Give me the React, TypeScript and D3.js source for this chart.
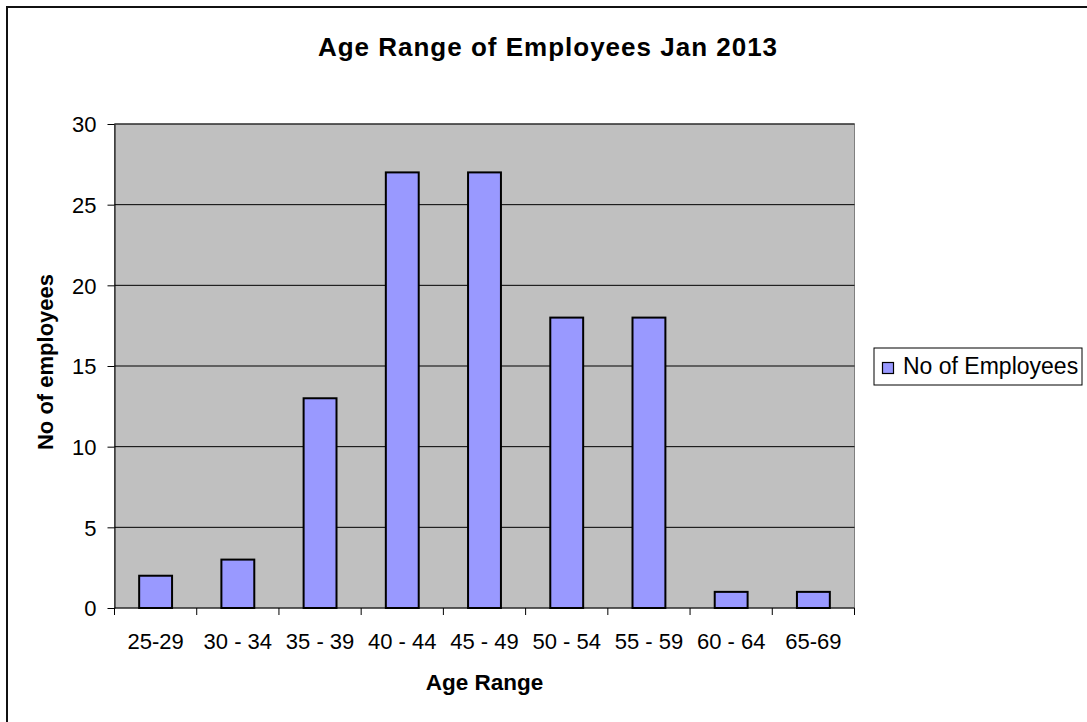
/* eslint-disable */
import React, { useRef, useEffect } from "react";
import * as d3 from "d3";

const categories = ["25-29", "30 - 34", "35 - 39", "40 - 44", "45 - 49", "50 - 54", "55 - 59", "60 - 64", "65-69"];
const employees = [2, 3, 13, 27, 27, 18, 18, 1, 1];
const yTicks = [0, 5, 10, 15, 20, 25, 30];
const seriesName = "No of Employees";
const chartTitle = "Age Range of Employees Jan 2013";
const xTitle = "Age Range";
const yTitle = "No of employees";

const App = () => {
  const svgRef = useRef<SVGSVGElement>(null);

  useEffect(() => {
    if (!svgRef.current) return;
    const svg = d3.select(svgRef.current);
    svg.selectAll("*").remove();

    const width = 1087;
    const height = 722;
    const plotLeft = 114.5;
    const plotRight = 854.5;
    const plotTop = 124;
    const plotBottom = 608;
    const font = "'Liberation Sans', Arial, sans-serif";

    svg.attr("width", width).attr("height", height).style("font-family", font);

    // outer chart frame (cropped at right/bottom)
    svg
      .append("rect")
      .attr("x", 7)
      .attr("y", 7)
      .attr("width", 1200)
      .attr("height", 800)
      .attr("fill", "white")
      .attr("stroke", "#111")
      .attr("stroke-width", 2);

    const x = d3.scaleBand<string>().domain(categories).range([plotLeft, plotRight]).paddingInner(0.6).paddingOuter(0.3);
    const xb = d3.scaleBand<string>().domain(categories).range([plotLeft, plotRight]);
    const y = d3.scaleLinear().domain([0, 30]).range([plotBottom, plotTop]);

    // plot area
    svg
      .append("rect")
      .attr("x", plotLeft)
      .attr("y", plotTop)
      .attr("width", plotRight - plotLeft)
      .attr("height", plotBottom - plotTop)
      .attr("fill", "#c0c0c0")
      .attr("stroke", "#808080")
      .attr("stroke-width", 1);

    // gridlines
    svg
      .append("g")
      .selectAll("line")
      .data(yTicks.filter((d) => d > 0))
      .join("line")
      .attr("x1", plotLeft)
      .attr("x2", plotRight)
      .attr("y1", (d) => y(d))
      .attr("y2", (d) => y(d))
      .attr("stroke", "#000")
      .attr("stroke-width", 1);

    // bars
    svg
      .append("g")
      .selectAll("rect")
      .data(employees)
      .join("rect")
      .attr("x", (_, i) => x(categories[i])!)
      .attr("y", (d) => y(d))
      .attr("width", x.bandwidth())
      .attr("height", (d) => y(0) - y(d))
      .attr("fill", "#9999ff")
      .attr("stroke", "#000")
      .attr("stroke-width", 2);

    // y axis
    svg
      .append("g")
      .attr("transform", `translate(${plotLeft},0)`)
      .call(d3.axisLeft(y).tickValues(yTicks).tickSize(7).tickPadding(11).tickSizeOuter(0))
      .call((g) => g.select(".domain").attr("stroke", "#000"))
      .call((g) => g.selectAll(".tick text").attr("font-size", 22).attr("font-family", font).attr("fill", "#000").attr("dy", "0.35em"));

    // x axis
    const xAxis = svg.append("g").attr("transform", `translate(0,${plotBottom})`);
    xAxis.append("line").attr("x1", plotLeft).attr("x2", plotRight).attr("stroke", "#000");
    xAxis
      .selectAll("line.tick")
      .data([...categories.map((c) => xb(c)!), plotRight])
      .join("line")
      .attr("class", "tick")
      .attr("x1", (d) => d)
      .attr("x2", (d) => d)
      .attr("y1", 0)
      .attr("y2", 7)
      .attr("stroke", "#000");
    xAxis
      .selectAll("text")
      .data(categories)
      .join("text")
      .attr("x", (d) => xb(d)! + xb.bandwidth() / 2)
      .attr("y", 41)
      .attr("text-anchor", "middle")
      .attr("font-size", 22)
      .text((d) => d);

    // titles
    svg
      .append("text")
      .attr("x", 548)
      .attr("y", 56)
      .attr("text-anchor", "middle")
      .attr("font-size", 26)
      .attr("font-weight", "bold")
      .attr("letter-spacing", 1)
      .text(chartTitle);

    svg
      .append("text")
      .attr("x", (plotLeft + plotRight) / 2)
      .attr("y", 690)
      .attr("text-anchor", "middle")
      .attr("font-size", 22.5)
      .attr("font-weight", "bold")
      .text(xTitle);

    svg
      .append("text")
      .attr("transform", `translate(53,362) rotate(-90)`)
      .attr("text-anchor", "middle")
      .attr("font-size", 22)
      .attr("font-weight", "bold")
      .text(yTitle);

    // legend
    const legend = svg.append("g");
    legend
      .append("rect")
      .attr("x", 874)
      .attr("y", 348)
      .attr("width", 208)
      .attr("height", 37)
      .attr("fill", "white")
      .attr("stroke", "#000");
    legend
      .append("rect")
      .attr("x", 882.5)
      .attr("y", 362.5)
      .attr("width", 11)
      .attr("height", 11)
      .attr("fill", "#9999ff")
      .attr("stroke", "#000")
      .attr("stroke-width", 1.2);
    legend
      .append("text")
      .attr("x", 903)
      .attr("y", 374)
      .attr("font-size", 23)
      .text(seriesName);
  }, []);

  return <svg ref={svgRef} style={{ position: "absolute", left: 0, top: 0, display: "block" }}></svg>;
};

export default App;
